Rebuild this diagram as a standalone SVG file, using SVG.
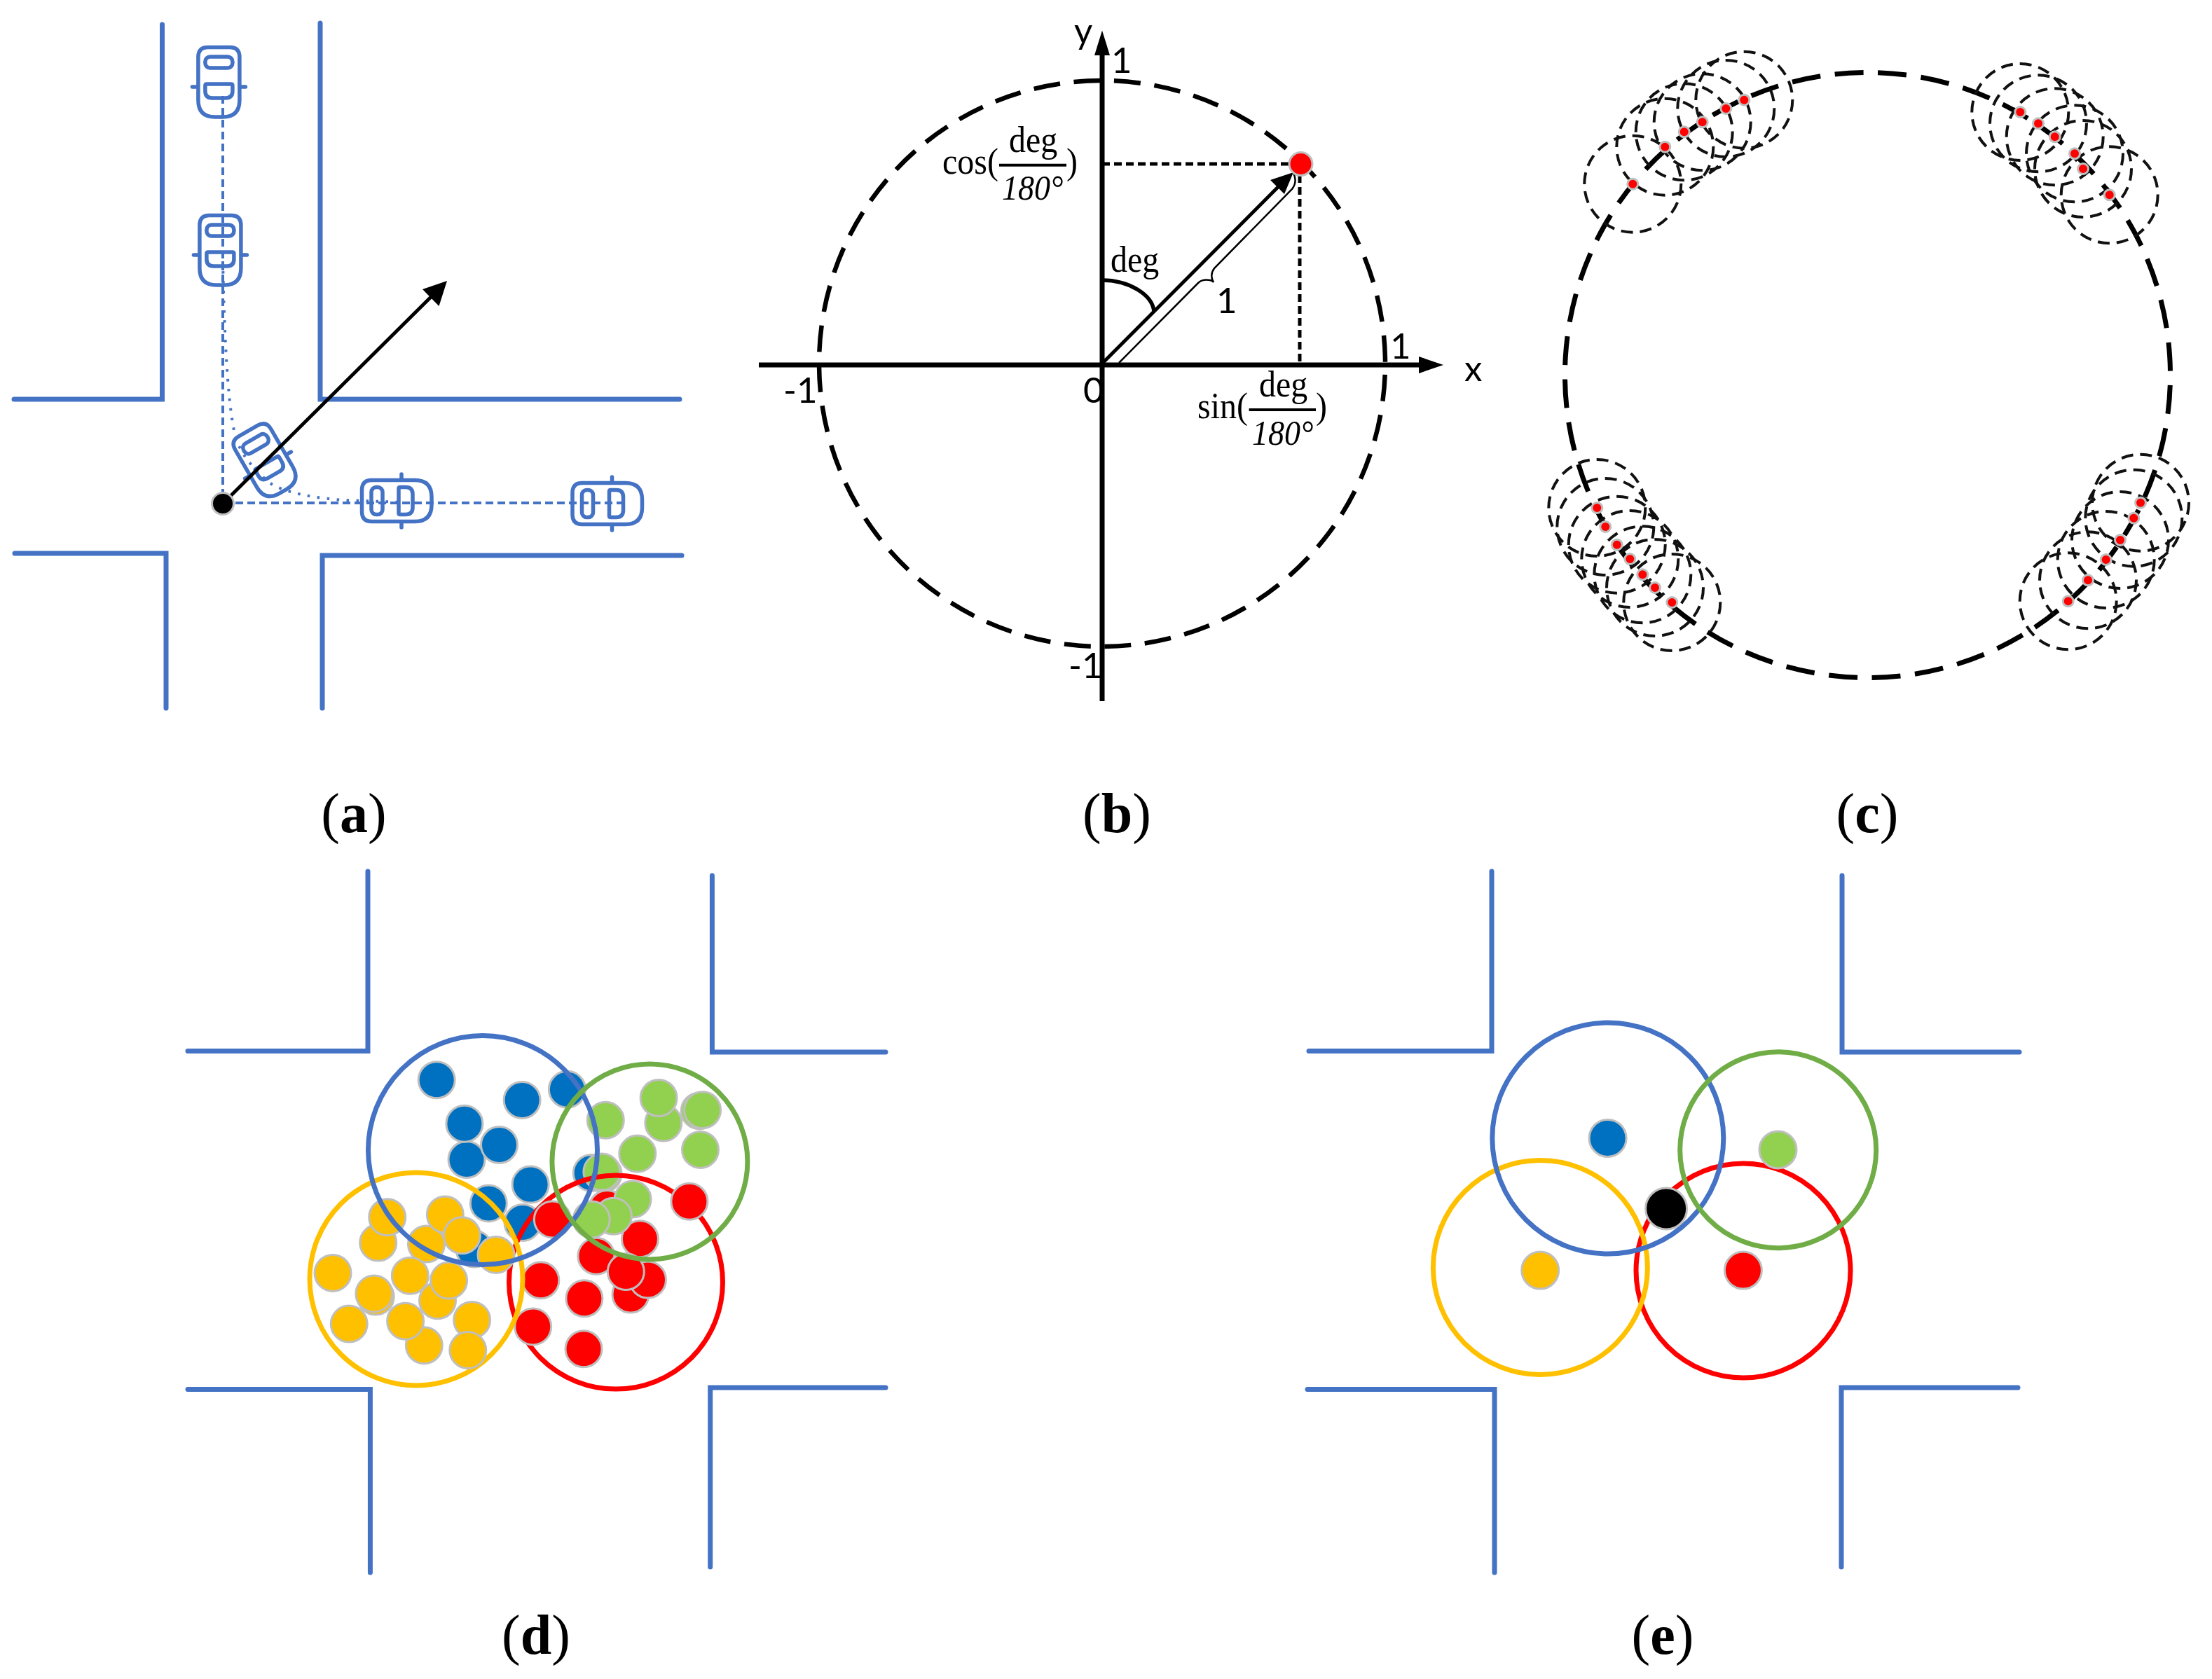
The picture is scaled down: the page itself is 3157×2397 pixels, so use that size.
<svg xmlns="http://www.w3.org/2000/svg" xmlns:xlink="http://www.w3.org/1999/xlink" width="3157" height="2397" viewBox="0 0 3157 2397">
<style>
.road{fill:none;stroke:#4472C4;stroke-width:7;stroke-linecap:round}
.carl{fill:none;stroke:#4472C4;stroke-width:5.5}
.dash{fill:none;stroke:#4472C4;stroke-width:4;stroke-dasharray:11 6}
.dots{fill:none;stroke:#4472C4;stroke-width:4;stroke-dasharray:3.5 10.5}
.ax{fill:none;stroke:#000;stroke-width:7}
.thin{fill:none;stroke:#000;stroke-width:2.5}
.blk{fill:none;stroke:#000;stroke-width:5}
.dk{fill:none;stroke:#000;stroke-width:5;stroke-dasharray:11 6}
.big1{fill:none;stroke:#000;stroke-width:6.5;stroke-dasharray:38 19.7;stroke-dashoffset:-16}
.big2{fill:none;stroke:#000;stroke-width:7;stroke-dasharray:41 20.68;stroke-dashoffset:-14.5}
.sm{fill:none;stroke:#111;stroke-width:4;stroke-dasharray:17 10}
.rd{fill:#FF0000;stroke:#BFBFBF;stroke-width:3}
.p{stroke:#BFBFBF;stroke-width:3}
.b{fill:#0070C0}.g{fill:#92D050}.r{fill:#FF0000}.y{fill:#FFC000}
.cb,.cg,.cy,.cr{fill:none;stroke-width:7}
.cb{stroke:#4472C4}.cg{stroke:#70AD47}.cy{stroke:#FFC000}.cr{stroke:#FF0000}
.s{font-family:"Lato","Liberation Sans",sans-serif;font-size:51px;fill:#000}
.t{font-family:"Liberation Serif",serif;font-size:48px;fill:#000}
.ti{font-family:"Liberation Serif",serif;font-size:46px;font-style:italic;fill:#000}
.lab{font-family:"Liberation Serif",serif;font-size:80px;fill:#000;text-anchor:middle}
.lab tspan{font-weight:bold}
</style>
<defs>
<g id="car">
<path class="carl" d="M-29.5 -35.5Q-29.5 -49.5 -15.5 -49.5H15.5Q29.5 -49.5 29.5 -35.5V26Q29.5 50 5.5 50H-5.5Q-29.5 50 -29.5 26Z"/>
<rect class="carl" x="-19.5" y="-36" width="39" height="16" rx="7"/>
<path class="carl" d="M-19.5 5Q-19.5 3 -17.5 3H17.5Q19.5 3 19.5 5V13Q19.5 23 9.5 23H-9.5Q-19.5 23 -19.5 13Z"/>
<path class="carl" stroke-linecap="round" d="M-38 7H-32.5M32.5 7H38"/>
</g>
</defs>

<g id="panel-a">
<g id="a-roads">
<path class="road" d="M20 570H231.5V35"/>
<path class="road" d="M970 570H457V33"/>
<path class="road" d="M21 790H237V1011"/>
<path class="road" d="M973 793H460V1011"/>
</g>
<g id="a-car-1"><use xlink:href="#car" transform="translate(312.4 117)"/></g>
<g id="a-car-2"><use xlink:href="#car" transform="translate(314.4 357)"/></g>
<g id="a-car-3"><use xlink:href="#car" transform="translate(379 658) rotate(-30)"/></g>
<g id="a-car-4"><use xlink:href="#car" transform="translate(566 715) rotate(-90)"/></g>
<g id="a-car-5"><use xlink:href="#car" transform="translate(866.5 719) rotate(-90)"/></g>
<g id="a-connectors">
<path class="dash" d="M318 137V719"/>
<path class="dash" d="M336 718H895"/>
<path class="dots" d="M318 373C320 470 324 560 333 609C338 640 352 660 383 688C405 704 450 711 491 714L574 717"/>
<path d="M318 719L615 424" fill="none" stroke="#000" stroke-width="5"/>
<path d="M638 401L603 413L626.5 437Z" fill="#000"/>
</g>
<g id="a-point"><circle cx="318" cy="719" r="15.5" fill="#000" stroke="#BFBFBF" stroke-width="3"/></g>
<text class="lab" x="505" y="1188">(<tspan>a</tspan>)</text>
</g>

<g id="panel-b">
<circle id="b-circle" class="big1" cx="1573" cy="519" r="404"/>
<g id="b-axes">
<path class="ax" d="M1083 521H2030"/>
<path d="M2060 521L2025 509V533Z" fill="#000"/>
<path class="ax" d="M1573 1001V70"/>
<path d="M1573 43.5L1562 79H1584Z" fill="#000"/>
</g>
<g id="b-connectors">
<path class="dk" d="M1573 234H1840"/>
<path class="dk" d="M1855 250V520"/>
<path class="blk" d="M1573 519L1825 266"/>
<path d="M1846 246L1813 257L1833 277Z" fill="#000"/>
<path d="M1573 400C1610 400 1645 420 1647 445" fill="none" stroke="#000" stroke-width="5.5"/>
<path class="thin" d="M1597 518L1710 404Q1716 398 1727 400Q1731 401 1732 403Q1726 393 1733 383L1844 270Q1852 260 1846 247"/>
</g>
<g id="b-point"><circle cx="1856.5" cy="234" r="16.5" fill="#FF0000" stroke="#BFBFBF" stroke-width="3"/></g>
<g id="b-labels">
<text class="s" x="1533" y="62">y</text>
<text class="s" x="1586" y="104">1</text>
<text class="s" x="1984" y="512">1</text>
<text class="s" x="1118" y="575">-1</text>
<text class="s" x="1546" y="575">0</text>
<text class="s" x="1525" y="968">-1</text>
<text class="s" x="2090" y="544">x</text>
<text class="s" x="1736" y="447">1</text>
<text class="t" transform="translate(1585 388) scale(1 1.12)">deg</text>
<text class="t" transform="translate(1345 248) scale(1 1.12)">cos(</text>
<text class="t" transform="translate(1440 217) scale(1 1.12)">deg</text>
<path d="M1426 235.7H1522" stroke="#000" stroke-width="4"/>
<text class="ti" transform="translate(1430 285) scale(1 1.12)">180°</text>
<text class="t" transform="translate(1522 248) scale(1 1.12)">)</text>
<text class="t" transform="translate(1709 597) scale(1 1.12)">sin(</text>
<text class="t" transform="translate(1797 566) scale(1 1.12)">deg</text>
<path d="M1782.6 585H1878" stroke="#000" stroke-width="4"/>
<text class="ti" transform="translate(1787 635) scale(1 1.12)">180°</text>
<text class="t" transform="translate(1878 597) scale(1 1.12)">)</text>
</g>
<text class="lab" x="1594" y="1188">(<tspan>b</tspan>)</text>
</g>

<g id="panel-c">
<circle id="c-circle" class="big2" cx="2665.5" cy="535.5" r="432"/>
<g id="c-ranges">
<circle class="sm" cx="2330.3" cy="262.7" r="69"/><circle class="sm" cx="2376.3" cy="209.7" r="69"/><circle class="sm" cx="2403.7" cy="188.3" r="69"/><circle class="sm" cx="2429.7" cy="174.3" r="69"/><circle class="sm" cx="2463.3" cy="155" r="69"/><circle class="sm" cx="2489.3" cy="142.7" r="69"/>
<circle class="sm" cx="2883.3" cy="160" r="69"/><circle class="sm" cx="2909" cy="176.3" r="69"/><circle class="sm" cx="2932.7" cy="195.3" r="69"/><circle class="sm" cx="2961" cy="219.3" r="69"/><circle class="sm" cx="2973" cy="241" r="69"/><circle class="sm" cx="3010.7" cy="278.3" r="69"/>
<circle class="sm" cx="2279.3" cy="725" r="69"/><circle class="sm" cx="2291.3" cy="752" r="69"/><circle class="sm" cx="2307.7" cy="777.7" r="69"/><circle class="sm" cx="2326.3" cy="798" r="69"/><circle class="sm" cx="2344.3" cy="820.3" r="69"/><circle class="sm" cx="2362" cy="839" r="69"/><circle class="sm" cx="2386.3" cy="860" r="69"/>
<circle class="sm" cx="3055" cy="717.7" r="69"/><circle class="sm" cx="3045.3" cy="739.7" r="69"/><circle class="sm" cx="3026" cy="771" r="69"/><circle class="sm" cx="3005.7" cy="799" r="69"/><circle class="sm" cx="2980" cy="828.3" r="69"/><circle class="sm" cx="2951.7" cy="858.3" r="69"/>
</g>
<g id="c-points">
<circle class="rd" cx="2330.3" cy="262.7" r="7.5"/><circle class="rd" cx="2376.3" cy="209.7" r="7.5"/><circle class="rd" cx="2403.7" cy="188.3" r="7.5"/><circle class="rd" cx="2429.7" cy="174.3" r="7.5"/><circle class="rd" cx="2463.3" cy="155" r="7.5"/><circle class="rd" cx="2489.3" cy="142.7" r="7.5"/>
<circle class="rd" cx="2883.3" cy="160" r="7.5"/><circle class="rd" cx="2909" cy="176.3" r="7.5"/><circle class="rd" cx="2932.7" cy="195.3" r="7.5"/><circle class="rd" cx="2961" cy="219.3" r="7.5"/><circle class="rd" cx="2973" cy="241" r="7.5"/><circle class="rd" cx="3010.7" cy="278.3" r="7.5"/>
<circle class="rd" cx="2279.3" cy="725" r="7.5"/><circle class="rd" cx="2291.3" cy="752" r="7.5"/><circle class="rd" cx="2307.7" cy="777.7" r="7.5"/><circle class="rd" cx="2326.3" cy="798" r="7.5"/><circle class="rd" cx="2344.3" cy="820.3" r="7.5"/><circle class="rd" cx="2362" cy="839" r="7.5"/><circle class="rd" cx="2386.3" cy="860" r="7.5"/>
<circle class="rd" cx="3055" cy="717.7" r="7.5"/><circle class="rd" cx="3045.3" cy="739.7" r="7.5"/><circle class="rd" cx="3026" cy="771" r="7.5"/><circle class="rd" cx="3005.7" cy="799" r="7.5"/><circle class="rd" cx="2980" cy="828.3" r="7.5"/><circle class="rd" cx="2951.7" cy="858.3" r="7.5"/>
</g>
<text class="lab" x="2665" y="1188">(<tspan>c</tspan>)</text>
</g>

<g id="panel-d">
<g id="d-roads">
<path class="road" d="M268 1500.5H525V1244"/>
<path class="road" d="M1264 1502H1016.4V1250"/>
<path class="road" d="M268 1983.5H528.4V2245"/>
<path class="road" d="M1264 1981H1013.7V2237"/>
</g>
<g id="d-blue-points">
<circle class="p b" cx="623.2" cy="1541.8" r="26"/><circle class="p b" cx="745.1" cy="1570.5" r="26"/><circle class="p b" cx="809.4" cy="1555.2" r="26"/><circle class="p b" cx="666" cy="1655.5" r="26"/><circle class="p b" cx="662.9" cy="1604.2" r="26"/><circle class="p b" cx="712.5" cy="1634.5" r="26"/><circle class="p b" cx="757.1" cy="1691.1" r="26"/><circle class="p b" cx="697.3" cy="1717.9" r="26"/><circle class="p b" cx="746" cy="1745.4" r="26"/><circle class="p b" cx="676.8" cy="1783" r="26"/><circle class="p b" cx="844.2" cy="1674.6" r="26"/>
</g>
<g id="d-green-points">
<circle class="p g" cx="864.3" cy="1599.3" r="26"/><circle class="p g" cx="946.8" cy="1603.1" r="26"/><circle class="p g" cx="940.1" cy="1567.5" r="26"/><circle class="p g" cx="998.2" cy="1585.9" r="26"/><circle class="p g" cx="1002.6" cy="1584.7" r="26"/><circle class="p g" cx="999.5" cy="1641.4" r="26"/><circle class="p g" cx="909.8" cy="1647.1" r="26"/><circle class="p g" cx="861.1" cy="1675.8" r="26"/><circle class="p g" cx="858.9" cy="1673.1" r="26"/>
</g>
<circle id="d-red-range" class="cr" cx="879" cy="1830.6" r="152.5"/>
<g id="d-red-points">
<circle class="p r" cx="788.4" cy="1740.9" r="26"/><circle class="p r" cx="866.5" cy="1725.5" r="26"/><circle class="p r" cx="913.4" cy="1768.8" r="26"/><circle class="p r" cx="850.9" cy="1793.3" r="26"/><circle class="p r" cx="900" cy="1848" r="26"/><circle class="p r" cx="924.5" cy="1827" r="26"/><circle class="p r" cx="893.3" cy="1815.5" r="26"/><circle class="p r" cx="771.9" cy="1827.7" r="26"/><circle class="p r" cx="833.9" cy="1853.7" r="26"/><circle class="p r" cx="760.7" cy="1893.9" r="26"/><circle class="p r" cx="833" cy="1925.7" r="26"/><circle class="p r" cx="983.9" cy="1715.2" r="26"/>
</g>
<g id="d-green-points-2">
<circle class="p g" cx="903.1" cy="1712.1" r="26"/><circle class="p g" cx="875.4" cy="1736.3" r="26"/><circle class="p g" cx="844.2" cy="1740.9" r="26"/>
</g>
<circle id="d-yellow-range" class="cy" cx="594" cy="1826" r="152"/>
<g id="d-yellow-points">
<circle class="p y" cx="539.7" cy="1774.1" r="26"/><circle class="p y" cx="552.7" cy="1737.8" r="26"/><circle class="p y" cx="608.5" cy="1776" r="26"/><circle class="p y" cx="635.3" cy="1734" r="26"/><circle class="p y" cx="659.4" cy="1763.8" r="26"/><circle class="p y" cx="708" cy="1791.4" r="26"/><circle class="p y" cx="475" cy="1817.4" r="26"/><circle class="p y" cx="624.5" cy="1856.8" r="26"/><circle class="p y" cx="585.3" cy="1821.2" r="26"/><circle class="p y" cx="640.6" cy="1828.1" r="26"/><circle class="p y" cx="536.2" cy="1851.1" r="26"/><circle class="p y" cx="533.9" cy="1846.9" r="26"/><circle class="p y" cx="498.2" cy="1890.1" r="26"/><circle class="p y" cx="605.3" cy="1920.7" r="26"/><circle class="p y" cx="578.6" cy="1886.3" r="26"/><circle class="p y" cx="673.6" cy="1884.4" r="26"/><circle class="p y" cx="667.8" cy="1927.6" r="26"/>
</g>
<circle id="d-blue-range" class="cb" cx="689" cy="1642" r="163.5"/>
<circle id="d-green-range" class="cg" cx="927.4" cy="1658.4" r="139.5"/>
<text class="lab" x="765" y="2361">(<tspan>d</tspan>)</text>
</g>

<g id="panel-e">
<g id="e-roads">
<path class="road" d="M1868 1500.5H2129V1244"/>
<path class="road" d="M2882 1502H2629V1250"/>
<path class="road" d="M1866 1983.5H2133V2245"/>
<path class="road" d="M2880 1981H2628V2237"/>
</g>
<circle id="e-red-range" class="cr" cx="2488" cy="1814" r="153"/>
<circle id="e-yellow-range" class="cy" cx="2198.4" cy="1809.5" r="153"/>
<circle id="e-blue-range" class="cb" cx="2294.8" cy="1625" r="165"/>
<circle id="e-green-range" class="cg" cx="2537.7" cy="1641.7" r="140"/>
<g id="e-points">
<circle class="p b" cx="2294.6" cy="1624.9" r="26.5"/>
<circle class="p g" cx="2537.5" cy="1641.4" r="26.5"/>
<circle class="p y" cx="2198.2" cy="1813.6" r="26.5"/>
<circle class="p r" cx="2487.9" cy="1813.6" r="26.5"/>
<circle class="p" fill="#000" cx="2378.1" cy="1725.5" r="29.5"/>
</g>
<text class="lab" x="2373" y="2361">(<tspan>e</tspan>)</text>
</g>
</svg>
